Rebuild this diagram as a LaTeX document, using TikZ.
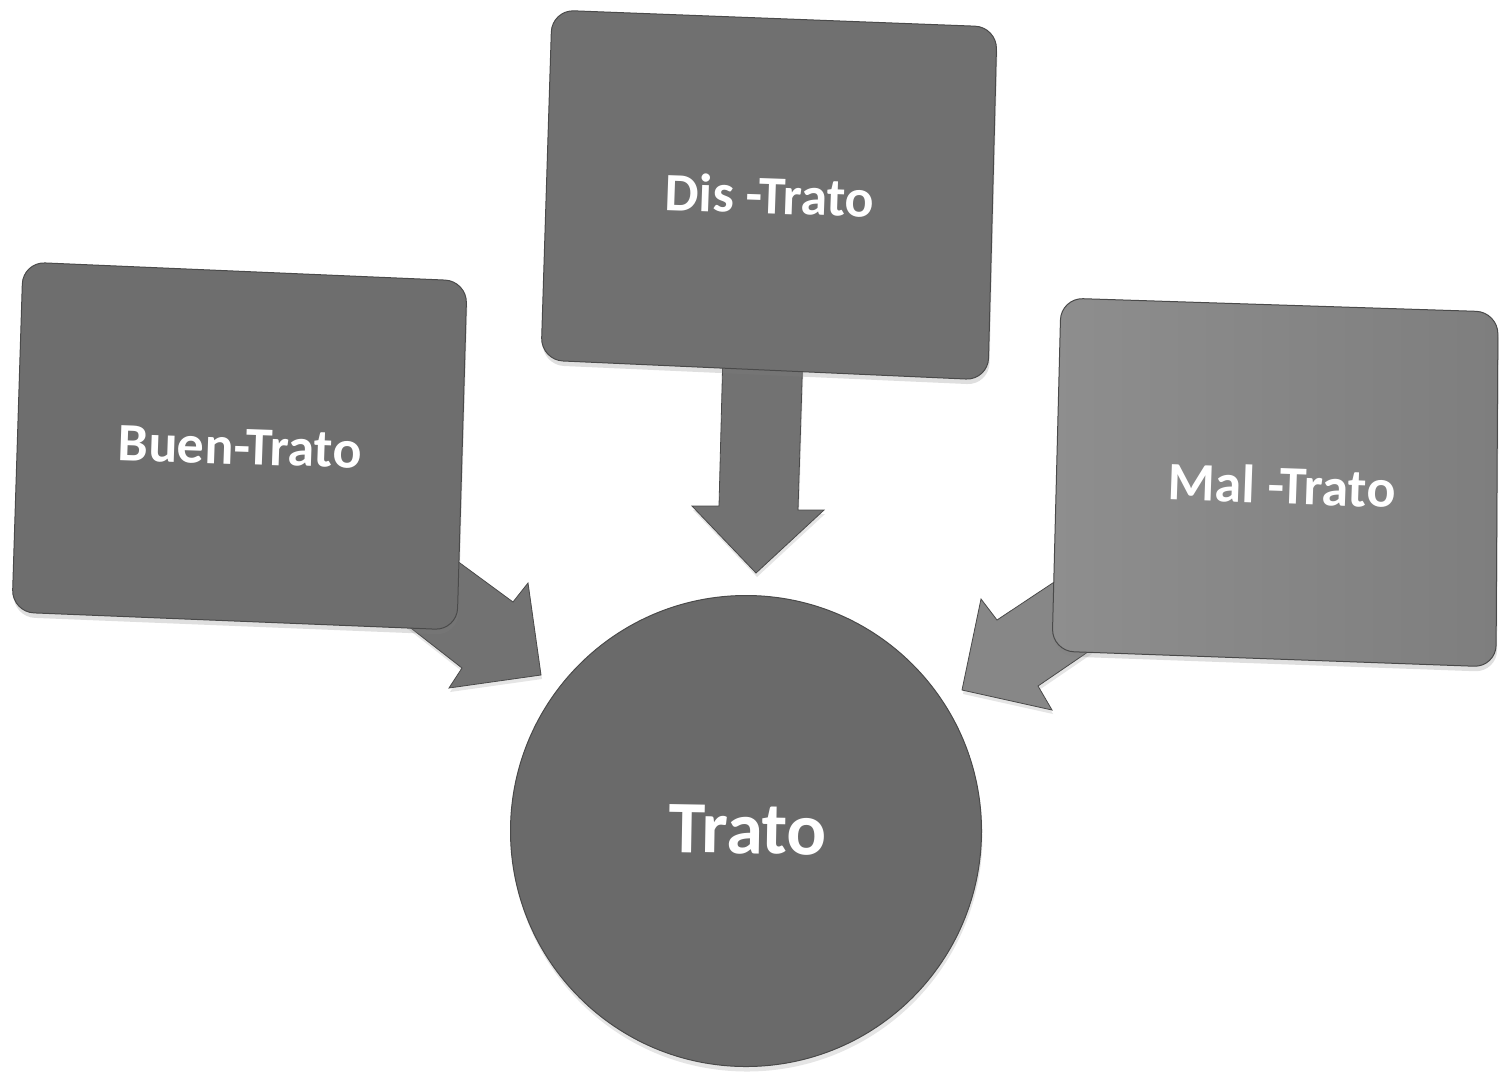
\documentclass[tikz,border=0pt]{standalone}
\usepackage{fontspec}
\setmainfont{Carlito}
\usetikzlibrary{shadows}
\definecolor{edgec}{HTML}{4A4A4A}
\definecolor{buenc}{HTML}{6E6E6E}
\definecolor{disc}{HTML}{707070}
\definecolor{malL}{HTML}{8E8E8E}
\definecolor{malR}{HTML}{7E7E7E}
\definecolor{arrc}{HTML}{727272}
\definecolor{arrR}{HTML}{878787}
\definecolor{circc}{HTML}{6A6A6A}
\begin{document}
\begin{tikzpicture}[x=1pt,y=-1pt,
  boxpath/.style={draw=edgec, line width=1pt, rounded corners=22pt,
    drop shadow={opacity=0.25, shadow xshift=1pt, shadow yshift=-5pt}},
  blockarrow/.style={draw=edgec, line width=0.8pt,
    drop shadow={opacity=0.2, shadow xshift=1pt, shadow yshift=-4pt}},
  lbl/.style={text=white, font=\bfseries\fontsize{54}{64}\selectfont, inner sep=0pt, rotate=-2},
  biglbl/.style={text=white, font=\bfseries\fontsize{74}{88}\selectfont, inner sep=0pt, rotate=-1}]
\useasboundingbox[fill=white] (0,0) rectangle (1499,1072);

% block arrows (under the boxes)
\path[blockarrow, fill=arrc] (400,519) -- (513,602) -- (528,583) -- (541,675)
  -- (449,688) -- (462,668) -- (380,604) -- cycle;
\path[blockarrow, fill=arrc] (723,350) -- (719,506) -- (692,506) -- (756,573)
  -- (824,510) -- (798,510) -- (803,350) -- cycle;
\path[blockarrow, fill=arrR] (1110,545) -- (997,620) -- (981,599) -- (962,690)
  -- (1052,710) -- (1038,686) -- (1120,630) -- cycle;

% boxes
\path[boxpath, fill=buenc] (23,262) -- (467,281) -- (457,630) -- (12,612) -- cycle;
\path[boxpath, fill=disc] (552,10) -- (997,27) -- (988,380) -- (541,360) -- cycle;
\path[boxpath, left color=malL, right color=malR] (1061,298) -- (1498,312) -- (1496,667) -- (1052,651) -- cycle;

% circle
\node[circle, draw=edgec, line width=1pt, fill=circc, minimum size=471pt, inner sep=0pt,
  drop shadow={opacity=0.2, shadow xshift=1pt, shadow yshift=-5pt}] (tratoc) at (746,831) {};

% labels
\node[lbl] (buen) at (240,447) {Buen-Trato};
\node[lbl] (dis) at (770,195) {Dis -Trato};
\node[lbl] (mal) at (1282,485) {Mal -Trato};
\node[biglbl] (trato) at (748,830) {Trato};
\end{tikzpicture}
\end{document}
